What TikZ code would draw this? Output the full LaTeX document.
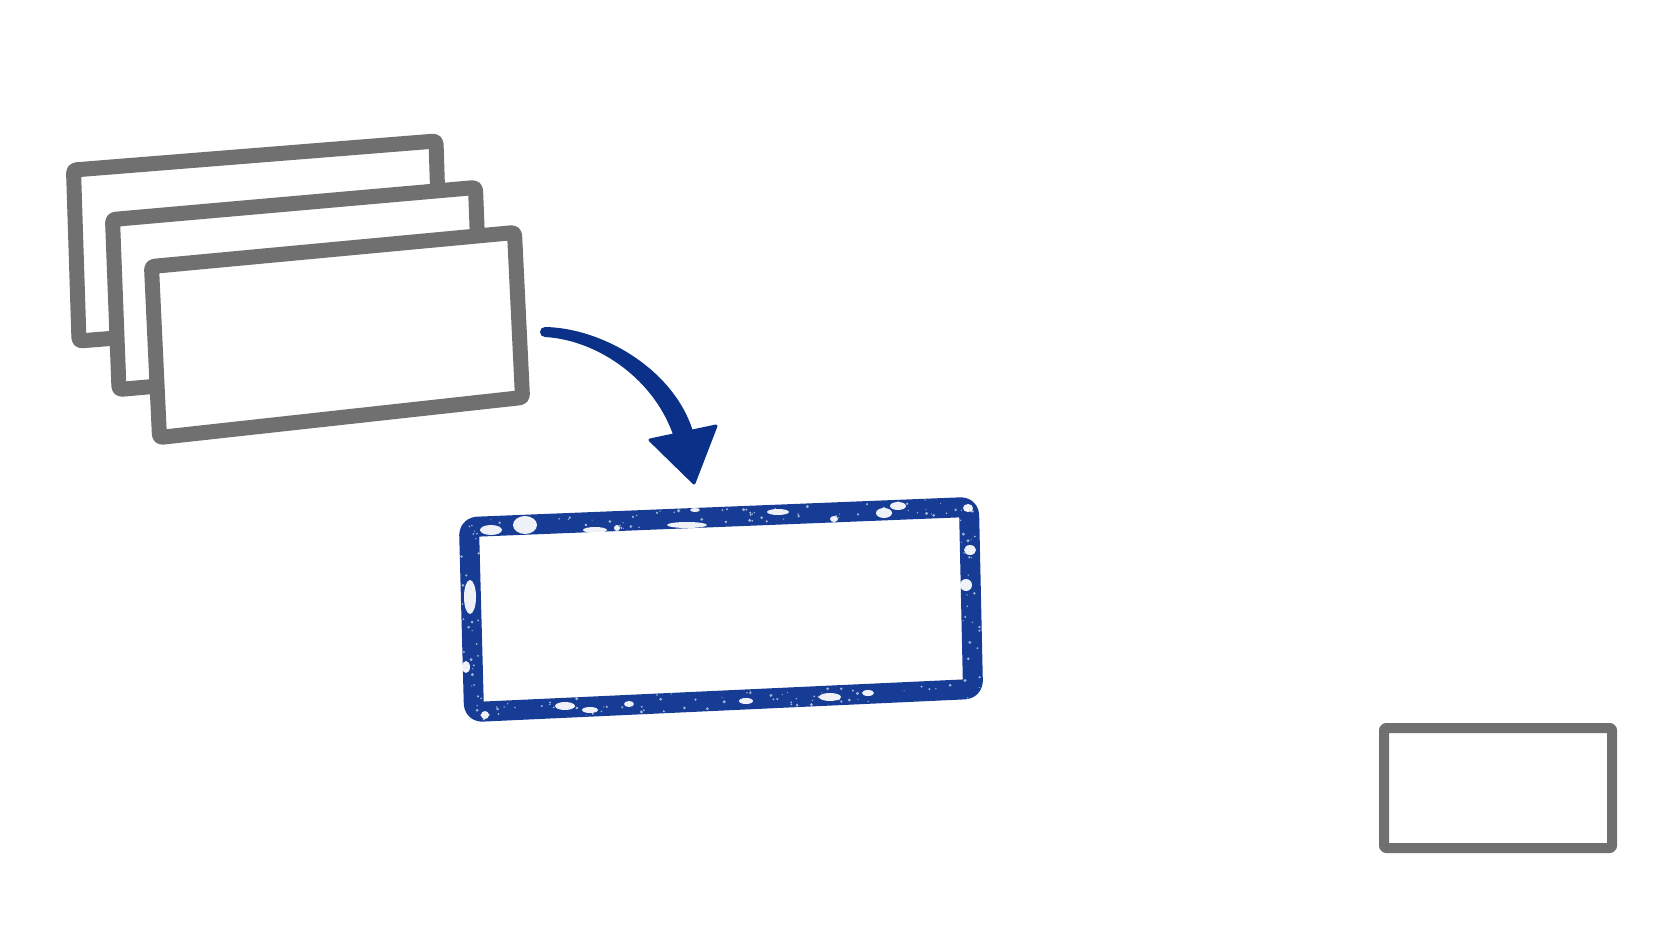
\documentclass[tikz,border=0pt]{standalone}
\usetikzlibrary{calc}
\definecolor{frameGray}{RGB}{112,112,112}
\definecolor{stampBlue}{RGB}{22,60,150}
\definecolor{arrowBlue}{RGB}{10,48,135}
\tikzset{
  card/.style={draw=frameGray, line width=7.5pt, fill=white, line join=round, rounded corners=1.5pt},
  stamp/.style={draw=stampBlue, line width=10pt, line join=round, rounded corners=4pt},
  smallcard/.style={draw=frameGray, line width=5pt, line join=round, rounded corners=1pt},
  gap/.style={fill=white, opacity=0.93},
  speck/.style={fill=white, opacity=0.6},
}
\begin{document}
\begin{tikzpicture}[x=0.5pt, y=-0.5pt]
\useasboundingbox (0,0) rectangle (1672,941);
% stacked cards
\draw[card] (73.5,170) -- (436,141) -- (441.5,312) -- (79,341) -- cycle;
\draw[card] (112.5,219.5) -- (475.5,187.5) -- (482,357.5) -- (119,389.5) -- cycle;
\draw[card] (151.5,266.5) -- (514.5,232.5) -- (522.5,397.5) -- (159.5,437.5) -- cycle;
% curved arrow (tapered shaft + head)
\coordinate (aStart) at (545,332);
\coordinate (aEnd) at (684,436);
\fill[arrowBlue] (545,327) .. controls (603,328) and (675,370) .. (693.5,433)
  -- (674.5,439) .. controls (656,380) and (598,340) .. (545,337) -- cycle;
\fill[arrowBlue] (aStart) circle (5);
\fill[arrowBlue, draw=arrowBlue, line width=1.5pt, line join=round] (650,440) -- (716,426) -- (694,483) -- cycle;
% stamped rectangle
\coordinate (s1) at (469,527);
\coordinate (s2) at (969,507);
\coordinate (s3) at (973,689);
\coordinate (s4) at (474,712);
\draw[stamp] (s1) -- (s2) -- (s3) -- (s4) -- cycle;
% fine worn texture
\pgfmathsetseed{11}
\foreach \i in {1,...,70} {
  \pgfmathsetmacro{\s}{rnd}
  \pgfmathsetmacro{\o}{rand*9}
  \pgfmathsetmacro{\r}{0.5+1.2*rnd}
  \fill[speck] ($(s1)!\s!(s2)$) ++(0,\o) circle (\r);
  \pgfmathsetmacro{\s}{rnd}
  \pgfmathsetmacro{\o}{rand*9}
  \pgfmathsetmacro{\r}{0.5+1.2*rnd}
  \fill[speck] ($(s4)!\s!(s3)$) ++(0,\o) circle (\r);
}
\foreach \i in {1,...,30} {
  \pgfmathsetmacro{\s}{rnd}
  \pgfmathsetmacro{\o}{rand*9}
  \pgfmathsetmacro{\r}{0.5+1.2*rnd}
  \fill[speck] ($(s1)!\s!(s4)$) ++(\o,0) circle (\r);
  \pgfmathsetmacro{\s}{rnd}
  \pgfmathsetmacro{\o}{rand*9}
  \pgfmathsetmacro{\r}{0.5+1.2*rnd}
  \fill[speck] ($(s2)!\s!(s3)$) ++(\o,0) circle (\r);
}
% larger worn gaps: top edge
\fill[gap] (491,530) ellipse (11 and 5);
\fill[gap] (525,525) ellipse (12 and 9);
\fill[gap] (595,530) ellipse (12 and 3);
\fill[gap] (617,528) ellipse (3 and 3);
\fill[gap] (687,525) ellipse (20 and 3);
\fill[gap] (695,510) ellipse (5 and 2);
\fill[gap] (778,512) ellipse (11 and 3);
\fill[gap] (834,519) ellipse (4 and 3);
\fill[gap] (884,513) ellipse (8 and 5);
\fill[gap] (898,506) ellipse (8 and 4);
\fill[gap] (968,508) ellipse (5 and 4);
% left edge
\fill[gap] (470,597) ellipse (6 and 17);
\fill[gap] (466,667) ellipse (4 and 6);
% right edge
\fill[gap] (970,550) ellipse (6 and 5);
\fill[gap] (966,585) ellipse (6 and 6);
% bottom edge
\fill[gap] (565,706) ellipse (10 and 4);
\fill[gap] (590,710) ellipse (8 and 3);
\fill[gap] (629,704) ellipse (5 and 3);
\fill[gap] (746,701) ellipse (7 and 3);
\fill[gap] (830,697) ellipse (11 and 4);
\fill[gap] (868,693) ellipse (6 and 3);
\fill[gap] (485,715) ellipse (4 and 4);
% small card
\draw[smallcard] (1384,728) rectangle (1612,848);
\end{tikzpicture}
\end{document}
